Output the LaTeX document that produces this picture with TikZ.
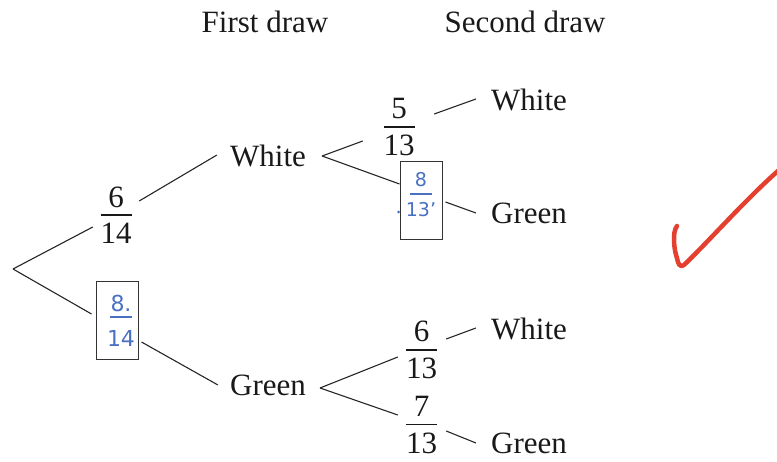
\documentclass[tikz,border=0pt]{standalone}
\usepackage{fontspec}
\setmainfont{Liberation Serif}
\newfontfamily\hwfont{DejaVu Sans}
\definecolor{hwblue}{RGB}{74,112,196}
\definecolor{tickred}{RGB}{228,64,48}
\newcommand{\pfrac}[2]{\vbox{\offinterlineskip
  \hbox to 33pt{\hss#1\hss}\kern7pt
  \hbox to 33pt{\hss\vrule width 31pt height 1.5pt\hss}\kern7pt
  \hbox to 33pt{\hss#2\hss}}}
\newcommand{\hwfrac}[5]{\vbox{\offinterlineskip
  \hbox to 32pt{\hss#1\hss}\kern#3
  \hbox to 32pt{\hss\vrule width 22pt height 2pt\hss}\kern#4
  \hbox to 32pt{\hss#2\hss}\kern#5}}
\begin{document}
\begin{tikzpicture}[x=1pt,y=-1pt,
  lbl/.style={font=\fontsize{31}{37}\selectfont, inner sep=0pt, text=black!90},
  frc/.style={lbl},
  hwbox/.style={draw=black!80, line width=1pt, fill=white, minimum width=42pt,
    minimum height=78pt, inner sep=0pt, text=hwblue},
  conn/.style={draw=black!85, line width=1.1pt},
  tick/.style={draw=tickred, line width=4.5pt, line cap=round, line join=round}]
\useasboundingbox (0,0) rectangle (777,462);

% titles
\node[lbl, anchor=base] (t1) at (265,33) {First draw};
\node[lbl, anchor=base] (t2) at (525,33) {Second draw};

% first stage
\coordinate (root) at (13,269);
\node[frc] (f1) at (116,215) {\pfrac{6}{14}};
\node[hwbox, font=\hwfont\fontsize{22}{22}\selectfont] (b1) at (117,321)
  {\hspace*{8pt}\hwfrac{8.}{14}{4pt}{13pt}{0pt}};
\node[lbl] (w1) at (268,156) {White};
\node[lbl] (g1) at (268,385) {Green};

% second stage, after White
\node[frc] (f2) at (399,127) {\pfrac{5}{13}};
\node[lbl] (w2) at (529,100) {White};
\node[lbl] (g2) at (529,213) {Green};

% second stage, after Green
\node[frc] (f3) at (421.5,350) {\pfrac{6}{13}};
\node[frc] (f4) at (421.5,425) {\pfrac{7}{13}};
\node[lbl] (w3) at (529,329) {White};
\node[lbl] (g3) at (529,443) {Green};

\coordinate (v1) at ([shift={(16,0)}]w1.east);
\coordinate (v2) at ([shift={(14,3)}]g1.east);

% connectors (drawn before the box after White so it covers them)
\draw[conn] (root) -- ([shift={(-6.5,12)}]f1.west);
\draw[conn] (root) -- ([shift={(-4,-7)}]b1.west);
\draw[conn] ([shift={(6.5,-14)}]f1.east) -- ([shift={(-13,-1)}]w1.west);
\draw[conn] ([shift={(3,21)}]b1.east) -- ([shift={(-12,0)}]g1.west);

\draw[conn] (v1) -- ([shift={(-19.5,14)}]f2.west);
\draw[conn] ([shift={(18.5,-13)}]f2.east) -- ([shift={(-15,-1)}]w2.west);

\node[hwbox, font=\hwfont\fontsize{19}{19}\selectfont] (b2) at (421,201)
  {\hwfrac{8}{13’}{6pt}{7pt}{13pt}};
\draw[conn] (v1) -- ([shift={(0,-17)}]b2.west);
\draw[conn] ([shift={(3,1)}]b2.east) -- ([shift={(-15,0)}]g2.west);
\fill[hwblue] ([shift={(-1,11)}]b2.west) circle[radius=1.5pt];

\draw[conn] (v2) -- ([shift={(-7,7)}]f3.west);
\draw[conn] (v2) -- ([shift={(-7,-10)}]f4.west);
\draw[conn] ([shift={(8,-11)}]f3.east) -- ([shift={(-15,-1)}]w3.west);
\draw[conn] ([shift={(8,6)}]f4.east) -- ([shift={(-15,0)}]g3.west);

% red check mark
\draw[tick] (677,226) .. controls (672,232) and (674,250) .. (677,258)
  .. controls (678,264) and (680,268) .. (684,265)
  .. controls (710,240) and (745,200) .. (779,170);
\end{tikzpicture}
\end{document}
